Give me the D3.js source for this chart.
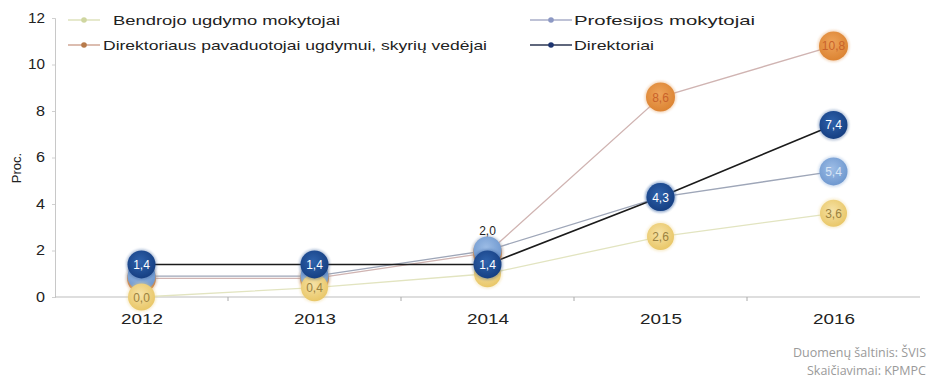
<!DOCTYPE html>
<html><head><meta charset="utf-8">
<script src="https://cdn.jsdelivr.net/npm/d3@7"></script>
<style>body{margin:0;background:#fff}svg{display:block}</style>
</head><body>
<svg id="c" width="931" height="385"></svg>
<script>
const years = ["2012","2013","2014","2015","2016"];
const seriesNames = ["Bendrojo ugdymo mokytojai","Direktoriaus pavaduotojai ugdymui, skyrių vedėjai","Profesijos mokytojai","Direktoriai"];
const bendrojo = [0.0, 0.4, 1.0, 2.6, 3.6];
const pavaduotojai = [0.8, 0.8, 1.9, 8.6, 10.8];
const profesijos = [0.9, 0.9, 2.0, 4.3, 5.4];
const direktoriai = [1.4, 1.4, 1.4, 4.3, 7.4];
const yTicks = [0, 2, 4, 6, 8, 10, 12];
const bendrojoLabels = ["0,0","0,4","","2,6","3,6"];
const pavLabels = ["","","","8,6","10,8"];
const profLabels = ["","","2,0","","5,4"];
const dirLabels = ["1,4","1,4","1,4","4,3","7,4"];

const FONT = "Liberation Sans, Arial, sans-serif";
const svg = d3.select("#c");
const x = d3.scalePoint().domain(years).range([55, 920]).padding(0.5);
const y = d3.scaleLinear().domain([0, 12]).range([297, 18]);

const defs = svg.append("defs");
function grad(id, c1, c2){
  const g = defs.append("radialGradient").attr("id", id).attr("cx","45%").attr("cy","40%").attr("r","60%");
  g.append("stop").attr("offset","0%").attr("stop-color", c1);
  g.append("stop").attr("offset","100%").attr("stop-color", c2);
}
grad("gY", "#f6e2a6", "#e9c768");
grad("gO", "#eea45a", "#dc8433");
grad("gP", "#9dbde6", "#6f98cf");
grad("gD", "#2f63ad", "#163f82");
const blur = defs.append("filter").attr("id","glow").attr("x","-50%").attr("y","-50%").attr("width","200%").attr("height","200%");
blur.append("feGaussianBlur").attr("stdDeviation", 1.2);

const yAxis = d3.axisLeft(y).tickValues(yTicks).tickSize(3).tickPadding(7);
const gy = svg.append("g").attr("transform","translate(55,0)").call(yAxis);
gy.select(".domain").attr("stroke","#c8c8c8");
gy.selectAll(".tick line").attr("stroke","#d0d0d0");
gy.selectAll("text").attr("font-family",FONT).attr("font-size",14).attr("fill","#222")
  .attr("textLength", d => d >= 10 ? 17 : 9).attr("lengthAdjust","spacingAndGlyphs");

const xAxis = d3.axisBottom(x).tickSize(0).tickPadding(17);
const gx = svg.append("g").attr("transform","translate(0,297)").call(xAxis);
gx.select(".domain").attr("stroke","#bdbdbd").attr("d","M55,0H920");
gx.selectAll("text").attr("font-family",FONT).attr("font-size",14).attr("fill","#222")
  .attr("textLength", 42).attr("lengthAdjust","spacingAndGlyphs");
const step = x.step();
svg.append("g").selectAll("line").data(years.slice(1)).join("line")
  .attr("x1", d => x(d) - step/2).attr("x2", d => x(d) - step/2)
  .attr("y1", 297).attr("y2", 301).attr("stroke","#aaa");

svg.append("text").attr("transform","translate(21,168) rotate(-90)").attr("text-anchor","middle")
  .attr("font-family",FONT).attr("font-size",13).attr("fill","#222").text("Proc.");

const series = [
  {vals: pavaduotojai, line:"#d0b4b2", lw:1.3, fill:"url(#gO)", r:14.5, txt:"#c9622a", labels: pavLabels},
  {vals: profesijos, line:"#9ea6b8", lw:1.3, fill:"url(#gP)", r:14, txt:"#d9e6f6", labels: profLabels},
  {vals: bendrojo, line:"#e2e4c0", lw:1.3, fill:"url(#gY)", r:13.5, txt:"#9b8240", labels: bendrojoLabels},
  {vals: direktoriai, line:"#1b1b1b", lw:1.6, fill:"url(#gD)", r:14, txt:"#ffffff", labels: dirLabels}
];
const line = d3.line().x((d,i) => x(years[i])).y(d => y(d));
series.forEach(s => {
  svg.append("path").datum(s.vals).attr("d", line).attr("fill","none").attr("stroke", s.line).attr("stroke-width", s.lw);
});
series.forEach(s => {
  const g = svg.append("g");
  g.selectAll("circle.h").data(s.vals).join("circle")
    .attr("cx",(d,i)=>x(years[i])).attr("cy",d=>y(d)).attr("r", s.r+1.5)
    .attr("fill", s.fill).attr("opacity",0.3).attr("filter","url(#glow)");
  g.selectAll("circle.m").data(s.vals).join("circle")
    .attr("cx",(d,i)=>x(years[i])).attr("cy",d=>y(d)).attr("r", s.r)
    .attr("fill", s.fill);
});
series.forEach(s => {
  svg.append("g").selectAll("text").data(s.vals).join("text")
    .attr("x",(d,i)=>x(years[i]))
    .attr("y",(d,i)=> (s === series[1] && i === 2) ? y(d) - 16 : y(d) + 4.5)
    .attr("text-anchor","middle")
    .attr("font-family",FONT).attr("font-size",12)
    .attr("fill",(d,i)=> (s === series[1] && i === 2) ? "#222" : s.txt)
    .text((d,i)=> s.labels[i]);
});

const legend = [
  {name: seriesNames[0], color:"#d9ddb2", mk:"#cfd6a0", x1:68, x2:100, tx:113, ty:20, w:227},
  {name: seriesNames[1], color:"#c99a86", mk:"#b77a4a", x1:68, x2:100, tx:103, ty:45, w:384},
  {name: seriesNames[2], color:"#a8aec8", mk:"#8c98c4", x1:530, x2:572, tx:574, ty:20, w:181},
  {name: seriesNames[3], color:"#2a3550", mk:"#1d3570", x1:530, x2:572, tx:574, ty:45, w:80}
];
const lg = svg.append("g");
legend.forEach(l => {
  lg.append("line").attr("x1",l.x1).attr("x2",l.x2).attr("y1",l.ty).attr("y2",l.ty).attr("stroke",l.color).attr("stroke-width",1.3);
  lg.append("circle").attr("cx",(l.x1+l.x2)/2).attr("cy",l.ty).attr("r",2.8).attr("fill",l.mk);
  lg.append("text").attr("x",l.tx).attr("y",l.ty+5).attr("font-family",FONT)
    .attr("font-size",13.5).attr("fill","#222").attr("textLength",l.w).attr("lengthAdjust","spacingAndGlyphs").text(l.name);
});

const src = svg.append("g").attr("font-family","Open Sans, sans-serif").attr("font-size",12.5).attr("fill","#9a9a9a").attr("text-anchor","end");
src.append("text").attr("x",926).attr("y",357).text("Duomenų šaltinis: ŠVIS");
src.append("text").attr("x",926).attr("y",375).text("Skaičiavimai: KPMPC");
</script>
</body></html>
